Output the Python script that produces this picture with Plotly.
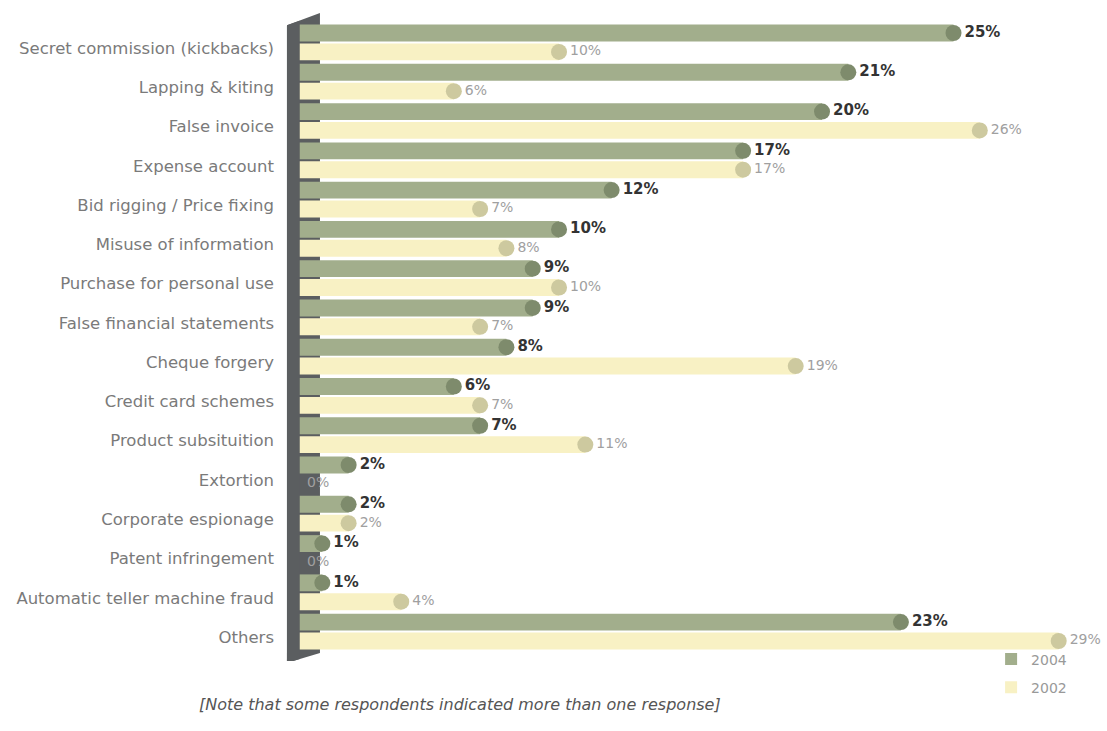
import plotly.graph_objects as go

categories = [
    "Secret commission (kickbacks)", "Lapping & kiting", "False invoice",
    "Expense account", "Bid rigging / Price fixing", "Misuse of information",
    "Purchase for personal use", "False financial statements", "Cheque forgery",
    "Credit card schemes", "Product subsituition", "Extortion",
    "Corporate espionage", "Patent infringement", "Automatic teller machine fraud",
    "Others",
]
values_2004 = [25, 21, 20, 17, 12, 10, 9, 9, 8, 6, 7, 2, 2, 1, 1, 23]
values_2002 = [10, 6, 26, 17, 7, 8, 10, 7, 19, 7, 11, 0, 2, 0, 4, 29]

BAR_2004, DOT_2004 = "#a2ae8c", "#7e8b6c"
BAR_2002, DOT_2002 = "#f8f1c4", "#cdc99f"
WALL = "#5b5e60"
FONT = "DejaVu Sans, Verdana, sans-serif"

idx = list(range(len(categories)))
y04 = [i - 0.24 for i in idx]
y02 = [i + 0.24 for i in idx]

fig = go.Figure()

fig.add_trace(go.Bar(
    x=values_2004, y=y04, orientation="h", width=0.43,
    marker=dict(color=BAR_2004, line=dict(width=0)),
    name="2004", legendgroup="a", hoverinfo="skip",
))
fig.add_trace(go.Bar(
    x=values_2002, y=y02, orientation="h", width=0.43,
    marker=dict(color=BAR_2002, line=dict(width=0)),
    name="2002", legendgroup="b", hoverinfo="skip",
))

# rounded caps with value labels (cap hidden on empty bars)
fig.add_trace(go.Scatter(
    x=values_2004, y=y04, mode="markers+text",
    marker=dict(size=16, opacity=1,
                color=[DOT_2004 if v > 0 else "rgba(0,0,0,0)" for v in values_2004]),
    text=[f"<b>{v}%</b>" for v in values_2004], textposition="middle right",
    textfont=dict(size=15, color="#333333", family=FONT),
    showlegend=False, hoverinfo="skip", cliponaxis=False,
))
fig.add_trace(go.Scatter(
    x=values_2002, y=y02, mode="markers+text",
    marker=dict(size=16, opacity=1,
                color=[DOT_2002 if v > 0 else "rgba(0,0,0,0)" for v in values_2002]),
    text=[f"{v}%" for v in values_2002], textposition="middle right",
    textfont=dict(size=14, color="#a0a0a0", family=FONT),
    showlegend=False, hoverinfo="skip", cliponaxis=False,
))

# the 3D wall the bars come out of: recessed depth behind, front face above
shapes = [
    dict(type="path", xref="paper", yref="paper", layer="below",
         path="M 0.0145 0.981 L 0.0545 1.0 L 0.0545 0.0123 L 0.022 0.0 L 0.0145 0.0 Z",
         fillcolor=WALL, line=dict(width=0)),
    dict(type="path", xref="paper", yref="paper", layer="above",
         path="M 0.0145 0.981 L 0.030 0.988 L 0.030 0.003 L 0.022 0.0 L 0.0145 0.0 Z",
         fillcolor=WALL, line=dict(width=0)),
]

fig.update_layout(
    width=1107, height=731,
    margin=dict(l=275, r=7, t=13, b=70),
    paper_bgcolor="white", plot_bgcolor="white",
    barmode="overlay",
    showlegend=True,
    legend=dict(x=0.868, y=0.027, xanchor="left", yanchor="top",
                font=dict(size=14, color="#999999", family=FONT),
                tracegroupgap=7, bgcolor="rgba(0,0,0,0)"),
    xaxis=dict(range=[-0.8, 30.57], visible=False, fixedrange=True),
    yaxis=dict(range=[15.75, -0.75], tickvals=[i + 0.14 for i in idx],
               ticktext=categories, showgrid=False, zeroline=False,
               ticks="", showline=False,
               tickfont=dict(size=16.5, color="#7a7a7a", family=FONT)),
    shapes=shapes,
    annotations=[dict(
        text="<i>[Note that some respondents indicated more than one response]</i>",
        x=(460 - 275) / (1107 - 275 - 7), xref="paper", xanchor="center",
        y=-0.085, yref="paper", showarrow=False,
        font=dict(size=16, color="#555555", family=FONT),
    )],
)

fig.write_html("out.html")
